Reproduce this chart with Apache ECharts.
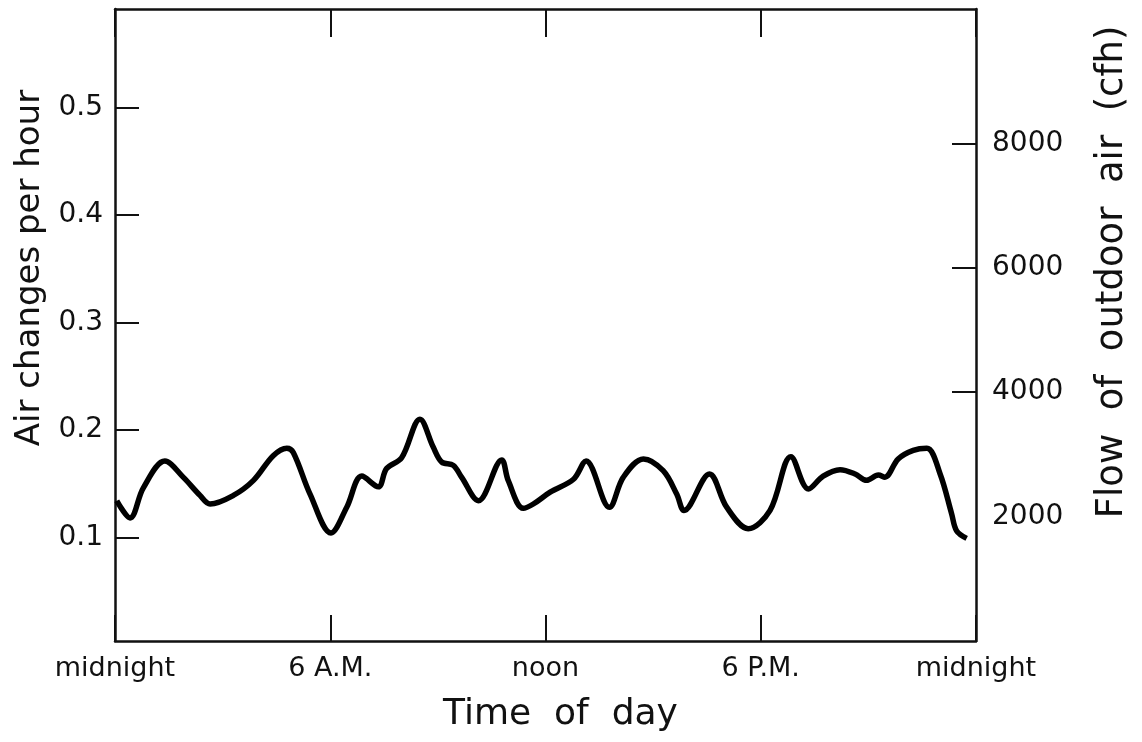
<!DOCTYPE html>
<html>
<head>
<meta charset="utf-8">
<script src="https://cdn.jsdelivr.net/npm/echarts@6/dist/echarts.min.js"></script>
<style>
  html, body { margin: 0; padding: 0; background: #fff; }
  #chart { width: 1142px; height: 742px; }
</style>
</head>
<body>
<div id="chart"></div>
<script>
// hours after midnight
const hours = [
  0.05, 0.42, 0.79, 1.39, 1.90, 2.37, 2.65, 3.30, 3.86, 4.41,
  4.79, 4.97, 5.44, 6.02, 6.46, 6.88, 7.34, 7.57, 7.99, 8.50,
  8.87, 9.11, 9.43, 9.66, 10.13, 10.78, 10.96, 11.38, 11.66, 12.13,
  12.78, 13.13, 13.78, 14.17, 14.73, 15.28, 15.66, 15.86, 16.57, 17.05,
  17.65, 18.26, 18.84, 19.33, 19.74, 20.21, 20.63, 20.95, 21.28, 21.46,
  21.83, 22.25, 22.63, 23.00, 23.32, 23.46, 23.74
];
// air changes per hour
const airChanges = [
  0.134, 0.118, 0.146, 0.171, 0.156, 0.139, 0.131, 0.139, 0.153, 0.176,
  0.183, 0.179, 0.140, 0.104, 0.128, 0.157, 0.147, 0.164, 0.174, 0.210,
  0.184, 0.170, 0.167, 0.156, 0.134, 0.172, 0.153, 0.127, 0.131, 0.142,
  0.154, 0.171, 0.128, 0.156, 0.173, 0.162, 0.140, 0.125, 0.159, 0.128,
  0.108, 0.125, 0.175, 0.145, 0.157, 0.163, 0.159, 0.153, 0.158, 0.156,
  0.173, 0.181, 0.183, 0.159, 0.122, 0.106, 0.099
];
const timeTicks = [0, 6, 12, 18, 24];
const timeLabels = ["midnight", "6 A.M.", "noon", "6 P.M.", "midnight"];
const leftTicks = [0.1, 0.2, 0.3, 0.4, 0.5];
const rightLabels = [2000, 4000, 6000, 8000];
const rightTicks = [4000, 6000, 8000];

const font = "DejaVu Sans";
const ink = "#111";

const chart = echarts.init(document.getElementById("chart"));
chart.setOption({
  animation: false,
  backgroundColor: "#fff",
  grid: { left: 115, right: 166, top: 9, bottom: 101 },
  xAxis: [
    {
      type: "value",
      min: 0,
      max: 24,
      interval: 6,
      name: "Time  of  day",
      nameLocation: "middle",
      nameGap: 56,
      nameTextStyle: { fontFamily: font, fontSize: 36, color: ink, padding: [0, 0, 0, 30] },
      axisLine: { onZero: false, lineStyle: { color: ink, width: 2.5 } },
      axisTick: { inside: true, length: 26, lineStyle: { color: ink, width: 2 } },
      axisLabel: {
        showMinLabel: true,
        showMaxLabel: true,
        margin: 14,
        fontFamily: font,
        fontSize: 27,
        color: ink,
        formatter: (v) => timeLabels[timeTicks.indexOf(v)] || "",
      },
      splitLine: { show: false },
    },
    {
      // top frame with its own inner ticks
      type: "value",
      position: "top",
      min: 0,
      max: 24,
      interval: 6,
      axisLine: { onZero: false, lineStyle: { color: ink, width: 2.5 } },
      axisTick: { inside: true, length: 28, lineStyle: { color: ink, width: 2 } },
      axisLabel: { show: false },
      splitLine: { show: false },
    },
  ],
  yAxis: [
    {
      type: "value",
      position: "left",
      min: 0.0034,
      max: 0.592,
      name: "Air changes per hour",
      nameLocation: "middle",
      nameRotate: 90,
      nameGap: 57,
      nameTextStyle: { fontFamily: font, fontSize: 34, color: ink, padding: [0, 0, 0, 114] },
      axisLine: { show: true, onZero: false, lineStyle: { color: ink, width: 2.5 } },
      axisTick: { show: true, inside: true, length: 24, customValues: leftTicks, lineStyle: { color: ink, width: 2 } },
      axisLabel: {
        margin: 12,
        fontFamily: font,
        fontSize: 28,
        color: ink,
        customValues: leftTicks,
        formatter: (v) => v.toFixed(1),
      },
      splitLine: { show: false },
    },
    {
      type: "value",
      position: "right",
      min: 0,
      max: 10160,
      name: "Flow  of  outdoor  air  (cfh)",
      nameLocation: "middle",
      nameRotate: 90,
      nameGap: 118,
      nameTextStyle: { fontFamily: font, fontSize: 37, color: ink, padding: [0, 0, 0, 106] },
      axisLine: { show: true, onZero: false, lineStyle: { color: ink, width: 2.5 } },
      axisTick: { show: true, inside: true, length: 24, customValues: rightTicks, lineStyle: { color: ink, width: 2 } },
      axisLabel: {
        margin: 16,
        fontFamily: font,
        fontSize: 28,
        color: ink,
        customValues: rightLabels,
        formatter: (v) => String(v),
      },
      splitLine: { show: false },
    },
  ],
  series: [
    {
      type: "line",
      xAxisIndex: 0,
      yAxisIndex: 0,
      data: hours.map((h, i) => [h, airChanges[i]]),
      smooth: 0.35,
      showSymbol: false,
      lineStyle: { color: "#000", width: 5.5 },
    },
  ],
});
</script>
</body>
</html>
